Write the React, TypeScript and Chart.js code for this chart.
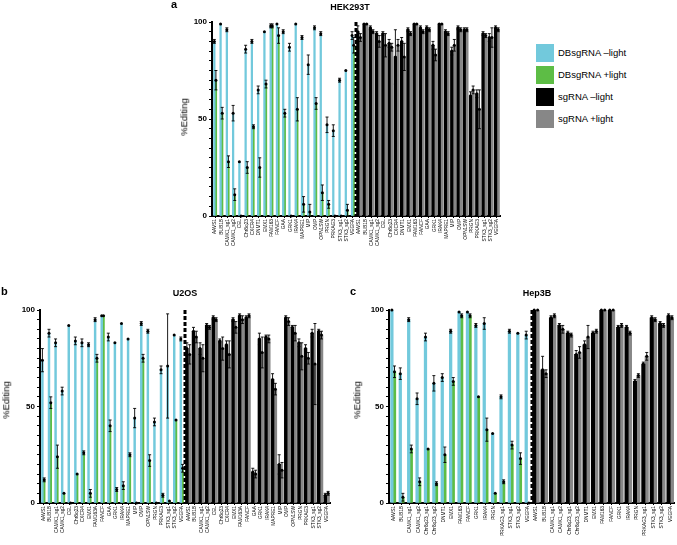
import React, { useEffect, useRef } from "react";
import { Chart, registerables } from "chart.js";

Chart.register(...registerables);

const FONT = "'Liberation Sans', Arial, Helvetica, sans-serif";
const CYAN = "#72c9dc";
const GREEN = "#5dbd45";
const BLACK = "#000000";
const GRAY = "#878787";

// ---------- Panel a: HEK293T ----------
const catsA = ["AAVS1", "BUB1B", "CAMK1_sg1", "CAMK1_sg2", "CEL", "Chr8q23", "CXCR4", "DNMT1", "EMX1", "FAM163", "FANCF", "GAA", "GRK1", "IRAK4", "MAPRE1", "MIP", "OMP", "OPN1SW", "PRGN", "PRKAG3", "STK3_sg1", "STK3_sg2", "VEGFA"];
const cyanA = [90, 99, 96, 53, 28, 86, 90, 65, 95, 98, 99, 95, 87, 99, 92, 78, 97, 94, 47, 44, 70, 75, 93];
const cyanErrA = [1, 0.5, 1, 4, 0, 2, 1, 2, 0.5, 1, 0.5, 1, 2, 0.5, 1, 5, 1, 1, 4, 3, 1, 0.5, 2];
const greenA = [70, 53, 28, 11, 0, 25, 46, 25, 68, 98, 93, 53, 0, 55, 6, 2, 58, 12, 6, 0, 0, 3, 88];
const greenErrA = [5, 3, 3, 3, 0, 3, 1, 5, 2, 1, 4, 2, 0, 6, 4, 4, 3, 4, 2, 0, 0, 3, 4];
const blackA = [95, 99, 97, 94, 94, 89, 82, 90, 96, 99, 97, 97, 88, 99, 95, 85, 97, 96, 62, 63, 94, 92, 97];
const blackErrA = [3, 0.5, 1, 1, 1, 2, 14, 2, 1, 0.5, 1, 1, 2, 0.5, 1, 2, 1, 1, 2, 2, 1, 2, 1];
const grayA = [92, 99, 95, 90, 88, 87, 88, 82, 94, 99, 95, 96, 83, 99, 94, 88, 96, 96, 65, 55, 93, 92, 96];
const grayErrA = [2, 0.5, 1, 3, 6, 2, 3, 7, 1, 0.5, 1, 1, 3, 0.5, 1, 3, 1, 1, 2, 10, 1, 5, 1];

// ---------- Panel b: U2OS ----------
const catsB = ["AAVS1", "BUB1B", "CAMK1_sg1", "CAMK1_sg2", "CEL", "Chr8q23", "CXCR4", "EMX1", "FAM163A", "FANCF", "GAA", "GRK1", "IRAK4", "MAPRE1", "MIP", "OMP", "OPN1SW", "PRGN", "PRKAG3", "STK3_sg1", "STK3_sg2", "VEGFA"];
const cyanB = [74, 88, 83, 58, 92, 84, 83, 82, 95, 97, 86, 83, 93, 85, 44, 93, 89, 42, 69, 71, 87, 85];
const cyanErrB = [6, 2, 2, 2, 0.5, 2, 2, 1, 1, 0.5, 2, 0.5, 0.5, 0.5, 5, 1, 1, 2, 2, 27, 0.5, 1];
const greenB = [12, 52, 24, 5, 0, 15, 26, 5, 75, 97, 40, 7, 9, 25, 0, 75, 22, 0, 4, 1, 43, 18];
const greenErrB = [1, 3, 6, 0.5, 0, 0.5, 1, 2, 2, 0.5, 3, 1, 2, 1, 0, 2, 3, 0, 1, 0.5, 0.5, 2];
const blackB = [80, 89, 80, 92, 96, 84, 82, 95, 97, 96, 16, 85, 86, 64, 20, 96, 91, 83, 80, 88, 89, 4];
const blackErrB = [3, 2, 3, 1, 1, 1, 2, 1, 1, 1, 2, 3, 1, 3, 5, 1, 1, 2, 2, 2, 1, 1];
const grayB = [77, 86, 75, 91, 95, 80, 77, 91, 95, 97, 15, 78, 85, 59, 17, 94, 88, 76, 75, 72, 87, 5];
const grayErrB = [5, 3, 7, 1, 1, 6, 7, 3, 2, 1, 2, 8, 2, 3, 4, 2, 4, 7, 3, 21, 2, 1];

// ---------- Panel c: Hep3B ----------
const catsC = ["AAVS1", "BUB1B", "CAMK1_sg1", "CAMK1_sg2", "Chr8q23_sg1", "Chr8q23_sg2", "DNMT1", "EMX1", "FAM163", "FANCF", "GRK1", "IRAK4", "PRGN", "PRKAG3_sg1", "STK3_sg1", "STK3_sg2", "VEGFA"];
const cyanC = [100, 67, 95, 54, 86, 62, 65, 89, 99, 99, 92, 93, 36, 55, 89, 88, 87];
const cyanErrC = [0.5, 3, 1, 3, 2, 4, 2, 1, 0.5, 0.5, 1, 3, 0.5, 1, 1, 0.5, 2];
const greenC = [68, 3, 28, 11, 28, 10, 25, 63, 97, 97, 55, 38, 5, 11, 30, 23, 0];
const greenErrC = [3, 2, 2, 2, 0.5, 1, 4, 2, 1, 1, 0.5, 6, 0.5, 1, 2, 3, 0];
const blackC = [100, 69, 96, 92, 88, 77, 82, 88, 100, 100, 91, 91, 63, 72, 96, 93, 97];
const blackErrC = [0.5, 7, 1, 1, 1, 2, 2, 1, 0.5, 0.5, 1, 1, 1, 1, 1, 1, 1];
const grayC = [100, 67, 97, 90, 87, 78, 86, 89, 100, 100, 92, 88, 66, 76, 95, 92, 96];
const grayErrC = [0.5, 2, 1, 2, 1, 3, 6, 1, 0.5, 0.5, 1, 1, 1, 2, 1, 1, 1];

const legendItems = [
  { label: "DBsgRNA \u2013light", color: CYAN },
  { label: "DBsgRNA +light", color: GREEN },
  { label: "sgRNA \u2013light", color: BLACK },
  { label: "sgRNA +light", color: GRAY },
];

const errPlugin = {
  id: "errs",
  afterDatasetsDraw(chart: any) {
    const ctx = chart.ctx;
    const ys = chart.scales.y;
    chart.data.datasets.forEach((ds: any, di: number) => {
      const meta = chart.getDatasetMeta(di);
      ds.data.forEach((v: any, i: number) => {
        if (v == null) return;
        const el = meta.data[i];
        if (!el) return;
        const x = el.x;
        const e = ds.errors[i] || 0;
        ctx.save();
        ctx.strokeStyle = "#000";
        ctx.fillStyle = "#000";
        ctx.lineWidth = 0.9;
        if (e > 0.6) {
          const yt = ys.getPixelForValue(v + e);
          const yb = ys.getPixelForValue(Math.max(0, v - e));
          ctx.beginPath();
          ctx.moveTo(x, yt);
          ctx.lineTo(x, yb);
          ctx.moveTo(x - 1.5, yt);
          ctx.lineTo(x + 1.5, yt);
          ctx.moveTo(x - 1.5, yb);
          ctx.lineTo(x + 1.5, yb);
          ctx.stroke();
        }
        ctx.beginPath();
        ctx.arc(x, ys.getPixelForValue(v), 1.5, 0, Math.PI * 2);
        ctx.fill();
        ctx.restore();
      });
    });
  },
};

const dashPlugin = {
  id: "divider",
  afterDatasetsDraw(chart: any) {
    const ctx = chart.ctx;
    const xs = chart.scales.x;
    const n = chart.data.labels.length / 2;
    const x = Math.round((xs.getPixelForValue(n - 1) + xs.getPixelForValue(n)) / 2);
    ctx.save();
    ctx.strokeStyle = "#000";
    ctx.lineWidth = 3;
    ctx.setLineDash([4, 2]);
    ctx.beginPath();
    ctx.moveTo(x, chart.chartArea.top);
    ctx.lineTo(x, chart.chartArea.bottom);
    ctx.stroke();
    ctx.restore();
  },
};

type PanelProps = {
  cats: string[];
  cyan: number[]; cyanErr: number[];
  green: number[]; greenErr: number[];
  black: number[]; blackErr: number[];
  gray: number[]; grayErr: number[];
  left: number; top: number; W: number; H: number;
  area: { l: number; r: number; t: number; b: number };
  thin: number; thick: number;
};

function Panel(p: PanelProps) {
  const ref = useRef<HTMLCanvasElement>(null);
  useEffect(() => {
    const nulls = p.cats.map(() => null);
    const labels = [...p.cats, ...p.cats];
    const chart = new Chart(ref.current as HTMLCanvasElement, {
      type: "bar",
      data: {
        labels,
        datasets: [
          { label: "DBsgRNA -light", data: [...p.cyan, ...nulls], errors: [...p.cyanErr, ...nulls], backgroundColor: CYAN, barThickness: p.thin, skipNull: true } as any,
          { label: "DBsgRNA +light", data: [...p.green, ...nulls], errors: [...p.greenErr, ...nulls], backgroundColor: GREEN, barThickness: p.thin, skipNull: true } as any,
          { label: "sgRNA -light", data: [...nulls, ...p.black], errors: [...nulls, ...p.blackErr], backgroundColor: BLACK, barThickness: p.thick, skipNull: true } as any,
          { label: "sgRNA +light", data: [...nulls, ...p.gray], errors: [...nulls, ...p.grayErr], backgroundColor: GRAY, barThickness: p.thick, skipNull: true } as any,
        ],
      },
      options: {
        animation: false,
        responsive: false,
        maintainAspectRatio: false,
        layout: { padding: { left: 0, right: p.W - p.area.r, top: p.area.t, bottom: 0 } },
        plugins: { legend: { display: false }, tooltip: { enabled: false } },
        scales: {
          x: {
            offset: true,
            grid: { display: true, drawOnChartArea: false, drawTicks: true, tickLength: 2, color: "#000", lineWidth: 1, offset: false },
            border: { display: true, color: "#000", width: 2 },
            ticks: { autoSkip: false, maxRotation: 90, minRotation: 90, font: { size: 4.8, family: FONT }, color: "#000", padding: 1 },
            afterFit: (s: any) => { s.height = p.H - p.area.b; },
          },
          y: {
            min: 0,
            max: 100,
            ticks: {
              stepSize: 5,
              autoSkip: false,
              callback: (v: any) => (Number(v) % 50 === 0 ? String(v) : ""),
              font: { size: 8, family: FONT, weight: "bold" },
              color: "#000",
              padding: 2,
            },
            grid: { drawOnChartArea: false, drawTicks: true, tickLength: 3, color: "#000", lineWidth: 1 },
            border: { display: true, color: "#000", width: 2 },
            afterFit: (s: any) => { s.width = p.area.l; },
          },
        },
      } as any,
      plugins: [errPlugin, dashPlugin],
    });
    return () => chart.destroy();
  }, []);
  return (
    <canvas
      ref={ref}
      width={p.W}
      height={p.H}
      style={{ position: "absolute", left: p.left, top: p.top, width: p.W, height: p.H }}
    />
  );
}

const txt = (s: React.CSSProperties): React.CSSProperties => ({
  position: "absolute",
  fontFamily: FONT,
  color: "#000",
  whiteSpace: "nowrap",
  lineHeight: 1,
  ...s,
});

function VLabel({ cx, cy }: { cx: number; cy: number }) {
  return (
    <div style={txt({ left: cx, top: cy, fontSize: 9.5, transform: "translate(-50%, -50%) rotate(-90deg)" })}>
      %Editing
    </div>
  );
}

export default function App() {
  return (
    <div style={{ position: "fixed", left: 0, top: 0, width: 677, height: 545, background: "#fff", overflow: "hidden" }}>
      <Panel
        cats={catsA} cyan={cyanA} cyanErr={cyanErrA} green={greenA} greenErr={greenErrA}
        black={blackA} blackErr={blackErrA} gray={grayA} grayErr={grayErrA}
        left={150} top={0} W={360} H={290} area={{ l: 62, r: 350, t: 22, b: 216 }} thin={1.6} thick={2.6}
      />
      <Panel
        cats={catsB} cyan={cyanB} cyanErr={cyanErrB} green={greenB} greenErr={greenErrB}
        black={blackB} blackErr={blackErrB} gray={grayB} grayErr={grayErrB}
        left={0} top={290} W={345} H={255} area={{ l: 40, r: 330, t: 20, b: 213 }} thin={1.8} thick={2.8}
      />
      <Panel
        cats={catsC} cyan={cyanC} cyanErr={cyanErrC} green={greenC} greenErr={greenErrC}
        black={blackC} blackErr={blackErrC} gray={grayC} grayErr={grayErrC}
        left={345} top={290} W={332} H={255} area={{ l: 44, r: 331, t: 20, b: 213 }} thin={2.6} thick={3.4}
      />

      <div style={txt({ left: 171, top: -1, fontSize: 11, fontWeight: "bold" })}>a</div>
      <div style={txt({ left: 350, top: 3, fontSize: 9, fontWeight: "bold", transform: "translateX(-50%)" })}>HEK293T</div>
      <VLabel cx={184} cy={117} />

      <div style={txt({ left: 1, top: 286, fontSize: 11, fontWeight: "bold" })}>b</div>
      <div style={txt({ left: 185, top: 289, fontSize: 9, fontWeight: "bold", transform: "translateX(-50%)" })}>U2OS</div>
      <VLabel cx={6} cy={400} />

      <div style={txt({ left: 350, top: 286, fontSize: 11, fontWeight: "bold" })}>c</div>
      <div style={txt({ left: 537, top: 289, fontSize: 9, fontWeight: "bold", transform: "translateX(-50%)" })}>Hep3B</div>
      <VLabel cx={357} cy={400} />

      {legendItems.map((it, i) => (
        <div key={it.label} style={{ position: "absolute", left: 536, top: 44 + i * 22, height: 18, display: "flex", alignItems: "center" }}>
          <div style={{ width: 18, height: 18, background: it.color }} />
          <div style={txt({ position: "static", fontSize: 9.5, marginLeft: 4 })}>{it.label}</div>
        </div>
      ))}
    </div>
  );
}
